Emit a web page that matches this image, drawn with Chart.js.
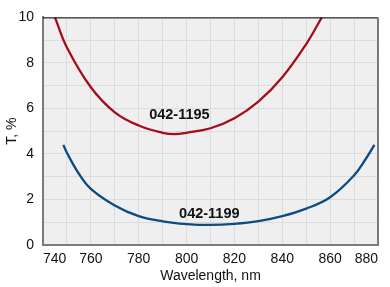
<!DOCTYPE html>
<html>
<head>
<meta charset="utf-8">
<script src="https://cdn.jsdelivr.net/npm/chart.js@4"></script>
<style>
  html, body { margin: 0; padding: 0; background: #fff; }
  #wrap { width: 390px; height: 287px; position: relative; }
</style>
</head>
<body>
<div id="wrap"><canvas id="chart"></canvas></div>
<script>
// transmission curves
var wl1195 = [745, 750, 760, 770, 780, 790, 795, 800, 810, 820, 830, 840, 850, 856.5];
var t1195 = [10, 8.68, 6.93, 5.83, 5.25, 4.93, 4.87, 4.93, 5.13, 5.57, 6.3, 7.37, 8.83, 10];

var wl1199 = [748.5, 750, 755, 760, 770, 780, 790, 800, 810, 820, 830, 840, 850, 860, 870, 875, 878.5];
var t1199 = [4.4, 4.05, 3.13, 2.47, 1.74, 1.27, 1.04, 0.92, 0.88, 0.93, 1.05, 1.27, 1.6, 2.1, 3.06, 3.8, 4.4];

var labelNames = ["042-1195", "042-1199"];
var labelX = [797, 809.5];
var labelY = [5.71, 1.37];

var xTicks = [740, 760, 780, 800, 820, 840, 860, 880];
var yTicks = [0, 2, 4, 6, 8, 10];

function toPoints(xs, ys) {
    var pts = [];
    for (var i = 0; i < xs.length; i++) {
        pts.push({ x: xs[i], y: ys[i] });
    }
    return pts;
}

var plotBg = {
    id: "plotBg",
    beforeDraw: function (chart) {
        var a = chart.chartArea, c = chart.ctx;
        c.save();
        c.fillStyle = "#efefef";
        c.fillRect(a.left, a.top, a.right - a.left, a.bottom - a.top);
        c.restore();
    },
    afterDraw: function (chart) {
        var a = chart.chartArea, c = chart.ctx;
        c.save();
        c.strokeStyle = "#000";
        c.lineWidth = 1;
        c.beginPath();
        c.moveTo(a.left, a.top + 0.5);
        c.lineTo(a.right, a.top + 0.5);
        c.stroke();
        c.strokeStyle = "#7a7a7a";
        c.lineWidth = 2;
        c.beginPath();
        c.moveTo(a.right, a.top);
        c.lineTo(a.right, a.bottom);
        c.stroke();
        // curve names
        c.fillStyle = "#111";
        c.font = "bold 14.5px 'Liberation Sans', Arial, sans-serif";
        c.textAlign = "center";
        c.textBaseline = "middle";
        for (var i = 0; i < labelNames.length; i++) {
            var px = chart.scales.x.getPixelForValue(labelX[i]);
            var py = chart.scales.y.getPixelForValue(labelY[i]);
            c.fillText(labelNames[i], px, py);
        }
        c.restore();
    }
};

var font = { family: "'Liberation Sans', Arial, sans-serif", size: 14 };

var ctx = document.getElementById("chart").getContext("2d");
var myChart = new Chart(ctx, {
    type: "scatter",
    data: {
        datasets: [
            {
                label: labelNames[0],
                data: toPoints(wl1195, t1195),
                showLine: true,
                borderColor: "#a50d1d",
                borderWidth: 2.3,
                pointRadius: 0,
                tension: 0.4
            },
            {
                label: labelNames[1],
                data: toPoints(wl1199, t1199),
                showLine: true,
                borderColor: "#0b4c85",
                borderWidth: 2.3,
                pointRadius: 0,
                tension: 0.4
            }
        ]
    },
    options: {
        responsive: true,
        maintainAspectRatio: false,
        animation: { duration: 0 },
        layout: { padding: { left: 4, right: 12, top: 15, bottom: 2 } },
        plugins: {
            legend: { display: false },
            tooltip: { enabled: false }
        },
        scales: {
            x: {
                type: "linear",
                min: 740,
                max: 880,
                afterFit: function (s) { s.height = 40; },
                ticks: {
                    stepSize: 10,
                    color: "#111",
                    font: font,
                    padding: 6,
                    maxRotation: 0,
                    autoSkip: false,
                    align: "inner",
                    callback: function (v) { return xTicks.indexOf(v) >= 0 ? v : ""; }
                },
                grid: { color: "#dcdcdc", lineWidth: 1, drawTicks: false },
                border: { color: "#7a7a7a", width: 2 },
                title: { display: true, text: "Wavelength, nm", color: "#111", font: font, padding: { top: 0, bottom: 0 } }
            },
            y: {
                type: "linear",
                min: 0,
                max: 10,
                afterFit: function (s) { s.width = 39; },
                ticks: {
                    stepSize: 1,
                    color: "#111",
                    font: font,
                    padding: 9,
                    autoSkip: false,
                    callback: function (v) { return yTicks.indexOf(v) >= 0 ? v : ""; }
                },
                grid: { color: "#dcdcdc", lineWidth: 1, drawTicks: false },
                border: { color: "#7a7a7a", width: 2 },
                title: { display: true, text: "T, %", color: "#111", font: font, padding: { top: 0, bottom: 0 } }
            }
        }
    },
    plugins: [plotBg]
});
</script>
</body>
</html>
